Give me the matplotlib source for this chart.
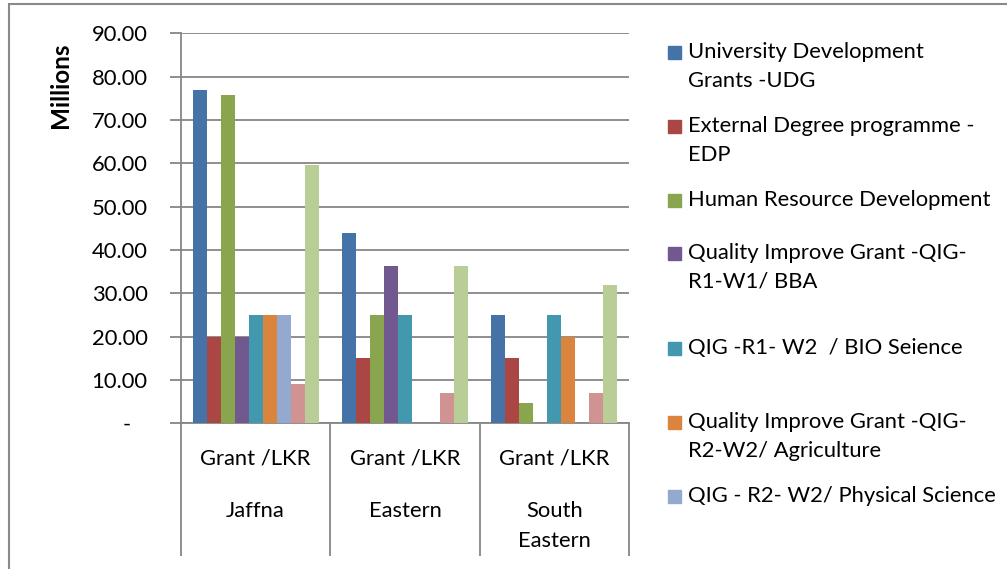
import matplotlib.pyplot as plt
from matplotlib.patches import Rectangle
import numpy as np

plt.rcParams['font.family'] = ['Lato', 'DejaVu Sans']

universities = ['Jaffna', 'Eastern', 'South\nEastern']
level1 = ['Grant /LKR', 'Grant /LKR', 'Grant /LKR']

series_names = ['University Development\nGrants -UDG',
                'External Degree programme -\nEDP',
                'Human Resource Development',
                'Quality Improve Grant -QIG-\nR1-W1/ BBA',
                'QIG -R1- W2  / BIO Seience',
                'Quality Improve Grant -QIG-\nR2-W2/ Agriculture',
                'QIG - R2- W2/ Physical Science',
                'Series 8',
                'Series 9']

udg = [77.0, 43.8, 25.0]
edp = [20.0, 15.0, 15.0]
hrd = [75.7, 25.0, 4.7]
qig_bba = [20.0, 36.4, 0.0]
qig_bio = [25.0, 25.0, 25.0]
qig_agri = [25.0, 0.0, 20.0]
qig_phys = [25.0, 0.0, 0.0]
series8 = [9.0, 6.9, 6.9]
series9 = [59.7, 36.4, 31.9]
values = [udg, edp, hrd, qig_bba, qig_bio, qig_agri, qig_phys, series8, series9]

colors = ['#4572A7', '#AA4643', '#89A54E', '#71588F', '#4198AF',
          '#DB843D', '#93A9CF', '#D19392', '#B9CD96']

W, H = 1007, 569
fs = 15.8
fig = plt.figure(figsize=(W / 100, H / 100), dpi=100)
# plot area in pixels: left 181, right 629, top 33, bottom 423
ax = fig.add_axes([181 / W, 1 - 423.3 / H, (629 - 181) / W, (423.3 - 33.3) / H])

x = np.arange(len(universities)) + 0.5
bw = 14 / 149.3
for i, (vals, c) in enumerate(zip(values, colors)):
    ax.bar(x + (i - 4) * bw, vals, width=bw, color=c, zorder=3)

ax.set_xlim(0, 3)
ax.set_ylim(0, 90)
yt = np.arange(0, 91, 10)
ax.set_yticks(yt)
ax.set_yticklabels(['-   ' if v == 0 else f'{v:.2f}' for v in yt])
ax.tick_params(axis='y', length=8, width=1.3, color='#868686', pad=16,
               labelsize=fs, labelcolor='black')
ax.yaxis.grid(True, color='#868686', linewidth=1.3, zorder=0)

# multi-level category axis: dividers are long major ticks
ax.set_xticks([0, 1, 2, 3])
ax.set_xticklabels([])
ax.tick_params(axis='x', which='major', length=96, width=1.3, color='#868686')
ax.set_xticks(x, minor=True)
ax.set_xticklabels(level1, minor=True)
ax.tick_params(axis='x', which='minor', length=0, pad=18, labelsize=fs)

for xi, name in zip(x, universities):
    ax.annotate(name, xy=(xi, 0), xycoords=('data', 'axes fraction'),
                xytext=(0, -56), textcoords='offset points', ha='center', va='top',
                fontsize=fs, linespacing=1.65)

for side in ['top', 'right']:
    ax.spines[side].set_visible(False)
for side in ['left', 'bottom']:
    ax.spines[side].set_color('#868686')
    ax.spines[side].set_linewidth(1.3)

fig.text(60 / W, 1 - 85 / H, 'Millions', rotation=90, ha='center', va='center',
         fontsize=17.5, fontweight='bold')

# legend (only the first seven entries are visible in the source)
leg_y = [52, 126, 200, 253, 348, 422, 496]
for name, c, yc in zip(series_names[:7], colors[:7], leg_y):
    fig.patches.append(Rectangle((668 / W, 1 - (yc + 7) / H), 13 / W, 13 / H,
                                 transform=fig.transFigure, color=c, figure=fig))
    for k, line in enumerate(name.split('\n')):
        fig.text(688 / W, 1 - (yc + k * 29) / H, line, ha='left', va='center',
                 fontsize=fs)

# outer chart frame
fig.patches.append(Rectangle((9 / W, -0.05), 1.2, 1 - 4 / H + 0.05,
                             transform=fig.transFigure, fill=False,
                             edgecolor='#898989', linewidth=1.5, figure=fig))

fig.savefig('out.png', dpi=100)
